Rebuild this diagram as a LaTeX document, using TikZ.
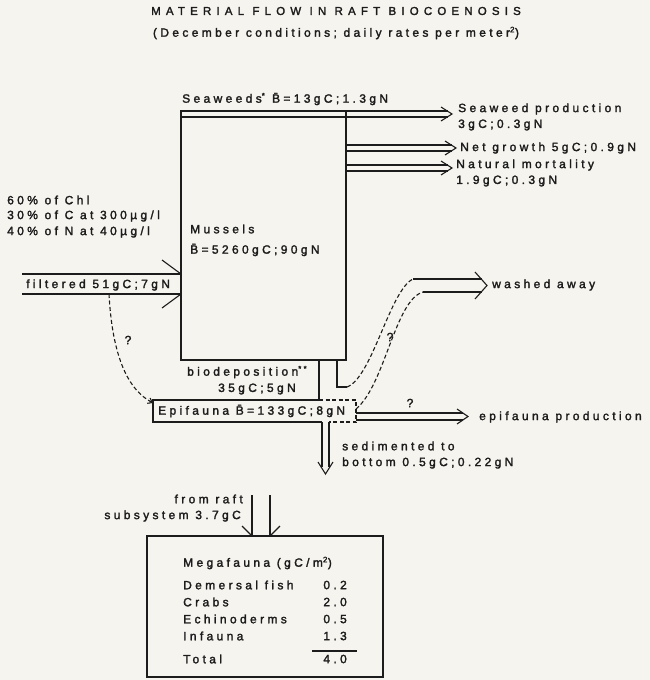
\documentclass[tikz,border=0pt]{standalone}
\usepackage{fontspec}
\usetikzlibrary{arrows.meta}
\newfontfamily\flowfont{Liberation Sans}[LetterSpace=28, FakeBold=2]
\newfontfamily\headfont{Liberation Sans}[LetterSpace=45, FakeBold=2]
\definecolor{paper}{RGB}{246,244,239}
\definecolor{ink}{RGB}{28,28,28}
\tikzset{
  lbl/.style={font=\flowfont\fontsize{12}{14}\selectfont, text=ink, inner sep=0pt, anchor=west},
  headline/.style={font=\headfont\fontsize{11.5}{14}\selectfont, text=ink, inner sep=0pt},
  flow/.style={draw=ink, line width=1.1pt},
  dashflow/.style={flow, dash pattern=on 4pt off 2.5pt},
  dashtip/.style={-{Straight Barb[length=4pt,width=6pt]}},
}
\begin{document}
\begin{tikzpicture}[x=1pt, y=-1pt]
  % Paper
  \fill[paper] (0,0) rectangle (650,680);
  \useasboundingbox (0,0) rectangle (650,680);

  % Coordinates
  \coordinate (musNW) at (181,111);
  \coordinate (musSE) at (346,360);
  \coordinate (strip) at (181,117);
  \coordinate (filA) at (181,274);
  \coordinate (filB) at (181,294);
  \coordinate (bioL) at (319,360);
  \coordinate (bioR) at (337,360);
  \coordinate (hook) at (347,387);
  \coordinate (epiNW) at (153,400);
  \coordinate (epiIn) at (153,403);
  \coordinate (epiSE) at (356,422);
  \coordinate (waTop) at (413,279);
  \coordinate (waBot) at (423,292);
  \coordinate (megNW) at (147,536);
  \coordinate (megSE) at (383,677);
  \coordinate (megInA) at (252,536);
  \coordinate (megInB) at (270,536);

  % Titles
  \node[headline] (title) at (336,11) {MATERIAL FLOW IN RAFT BIOCOENOSIS};
  \node[lbl, anchor=center] (subtitle) at (336,33) {(December conditions; daily rates per meter\textsuperscript{2})};

  % Mussel box with seaweed strip
  \draw[flow] (musNW) rectangle (musSE);
  \draw[flow] (strip) -- (346,117);
  \node[lbl] (seaweeds) at (182,99) {Seaweeds\textsuperscript{*} \={B}=13gC;1.3gN};
  \node[lbl] (mussels) at (190,229) {Mussels};
  \node[lbl] (musB) at (190,250) {\={B}=5260gC;90gN};

  % Outflows to the right
  \foreach \y/\t in {111/452, 145/456, 165/452}{
    \draw[flow] (346,\y) -- (\t-4,\y) (346,\y+6) -- (\t-4,\y+6);
    \draw[flow] (\t-11,\y-4) -- (\t,\y+3) -- (\t-11,\y+10);
  }
  \node[lbl] (swprod) at (458,109) {Seaweed production};
  \node[lbl] (swprodv) at (458,125) {3gC;0.3gN};
  \node[lbl] (netgrowth) at (460,148) {Net growth 5gC;0.9gN};
  \node[lbl] (mortality) at (456,165) {Natural mortality};
  \node[lbl] (mortalityv) at (456,181) {1.9gC;0.3gN};

  % Filtration
  \node[lbl] (chl) at (7,200) {60\% of Chl};
  \node[lbl] (carbon) at (7,216) {30\% of C at 300µg/l};
  \node[lbl] (nitrogen) at (7,232) {40\% of N at 40µg/l};
  \draw[flow] (22,274) -- (filA) (22,294) -- (filB);
  \draw[flow] (162,260) -- (filA) (162,308) -- (filB);
  \node[lbl] (filtered) at (26,285) {filtered 51gC;7gN};
  \draw[dashflow, dashtip] (109,294) .. controls (112,350) and (125,388) .. (epiIn);
  \node[lbl, anchor=center] (q1) at (128,340) {?};

  % Biodeposition and epifauna
  \draw[flow] (bioL) -- (bioL |- epiNW);
  \draw[flow] (bioR) -- (bioR |- hook) -- (hook);
  \node[lbl] (biodep) at (187,372) {biodeposition\textsuperscript{**}};
  \node[lbl] (biodepv) at (218,389) {35gC;5gN};
  \draw[flow] (bioL |- epiNW) -- (epiNW) -- (epiNW |- epiSE) -- (322,422);
  \draw[dashflow] (bioL |- epiNW) -- (epiSE |- epiNW) -- (epiSE) -- (329,422);
  \node[lbl] (epifauna) at (158,411) {Epifauna \={B}=133gC;8gN};

  % Washed away
  \draw[dashflow] (hook) .. controls (372,378) and (390,290) .. (waTop);
  \draw[dashflow] (356,409) .. controls (385,385) and (395,300) .. (waBot);
  \draw[flow] (waTop) -- (482,279) (waBot) -- (482,292);
  \draw[flow] (475,272) -- (487,285.5) -- (475,299);
  \node[lbl] (washed) at (492,285) {washed away};
  \node[lbl, anchor=center] (q2) at (390,337) {?};

  % Epifauna production
  \draw[flow] (356,413) -- (463,413) (356,420) -- (463,420);
  \draw[flow] (457,409) -- (468,416.5) -- (457,424);
  \node[lbl, anchor=center] (q3) at (410,403) {?};
  \node[lbl] (epiprod) at (479,417) {epifauna production};

  % Sedimentation
  \draw[flow] (322,422) -- (322,467) (329,422) -- (329,467);
  \draw[flow] (318,462) -- (325.5,474) -- (333,462);
  \node[lbl] (sediment) at (342,446) {sedimented to};
  \node[lbl] (sedimentv) at (342,463) {bottom 0.5gC;0.22gN};

  % Megafauna
  \node[lbl, anchor=east] (raft) at (243,499) {from raft};
  \node[lbl, anchor=east] (raftv) at (241,516) {subsystem 3.7gC};
  \draw[flow] (252,495) -- (megInA) (270,495) -- (megInB);
  \draw[flow] (242,526) -- (megInA) (280,526) -- (megInB);
  \draw[flow] (megNW) rectangle (megSE);
  \node[lbl] (megahead) at (183,563) {Megafauna (gC/m\textsuperscript{2})};
  \node[lbl] (fish) at (183,585) {Demersal fish};
  \node[lbl] (crabs) at (183,602) {Crabs};
  \node[lbl] (echino) at (183,619) {Echinoderms};
  \node[lbl] (infauna) at (183,636) {Infauna};
  \node[lbl] (total) at (183,659) {Total};
  \node[lbl, anchor=east] (fishv) at (347,585) {0.2};
  \node[lbl, anchor=east] (crabsv) at (347,602) {2.0};
  \node[lbl, anchor=east] (echinov) at (347,619) {0.5};
  \node[lbl, anchor=east] (infaunav) at (347,636) {1.3};
  \node[lbl, anchor=east] (totalv) at (347,659) {4.0};
  \draw[flow] (312,651) -- (357,651);
\end{tikzpicture}
\end{document}
